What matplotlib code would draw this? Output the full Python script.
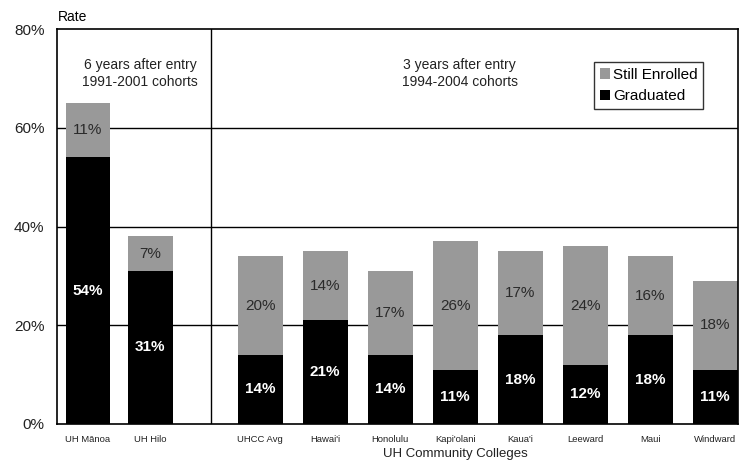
import matplotlib
matplotlib.use("Agg")
import matplotlib.pyplot as plt
from matplotlib.ticker import FuncFormatter

plt.rcParams['font.family'] = ['Liberation Sans', 'DejaVu Sans']

campuses = ["UH Mānoa", "UH Hilo", "UHCC Avg", "Hawai'i", "Honolulu",
            "Kapi'olani", "Kaua'i", "Leeward", "Maui", "Windward"]
graduated = [54, 31, 14, 21, 14, 11, 18, 12, 18, 11]
still_enrolled = [11, 7, 20, 14, 17, 26, 17, 24, 16, 18]

# two groups: 4-year campuses, then community colleges after a gap
xpos = [0, 0.96] + [2.65 + i for i in range(8)]
width = 0.69

fig = plt.figure(figsize=(7.39, 4.61), dpi=100)
ax = fig.add_axes([0.0771, 0.0803, 0.9215, 0.8567])

for y in [20, 40, 60]:
    ax.axhline(y, color='black', lw=1.0, zorder=1)
ax.axvline(1.89, color='black', lw=1.0, zorder=1)

ax.bar(xpos, graduated, width, color='black', label='Graduated', zorder=2)
ax.bar(xpos, still_enrolled, width, bottom=graduated, color='#999999',
       label='Still Enrolled', zorder=2)

for x, g, s in zip(xpos, graduated, still_enrolled):
    ax.text(x, g / 2, f"{g}%", ha='center', va='center', color='white',
            fontsize=11, fontweight='bold', zorder=3)
    ax.text(x, g + s / 2, f"{s}%", ha='center', va='center', color='#2a2a2a',
            fontsize=11, zorder=3)

ax.set_xlim(-0.477, 10.0)
ax.set_ylim(0, 80)
ax.set_yticks([0, 20, 40, 60, 80])
ax.yaxis.set_major_formatter(FuncFormatter(lambda v, p: f"{v:.0f}%"))
ax.set_xticks(xpos)
ax.set_xticklabels(campuses, fontsize=6.8, color='#222222')
ax.tick_params(length=0, pad=8)
ax.tick_params(axis='y', labelsize=11, pad=9, colors='#222222')
for sp in ax.spines.values():
    sp.set_linewidth(1.2)

ax.text(0.002, 1.012, "Rate", transform=ax.transAxes, fontsize=10, va='bottom')
ax.text(0.8, 71.0, "6 years after entry\n1991-2001 cohorts", ha='center',
        va='center', fontsize=10, color='#222222', linespacing=1.25)
ax.text(5.72, 71.0, "3 years after entry\n1994-2004 cohorts", ha='center',
        va='center', fontsize=10, color='#222222', linespacing=1.25)
ax.text(5.65, -6.0, "UH Community Colleges", ha='center', va='center',
        fontsize=9.5, color='#222222')

h, l = ax.get_legend_handles_labels()
leg = ax.legend(h[::-1], l[::-1], loc='upper right', bbox_to_anchor=(0.949, 0.916),
                fontsize=11, frameon=True, fancybox=False, edgecolor='black',
                handlelength=0.7, handleheight=0.7, handletextpad=0.2,
                borderpad=0.35, labelspacing=0.5, borderaxespad=0)
leg.get_frame().set_linewidth(1.0)

fig.savefig("out.png", dpi=100)
